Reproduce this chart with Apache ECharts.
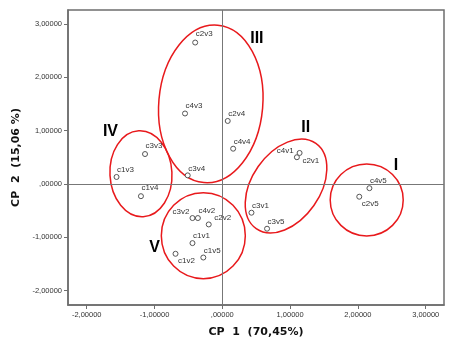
<!DOCTYPE html>
<html>
<head>
<meta charset="utf-8">
<script src="https://cdn.jsdelivr.net/npm/echarts@6/dist/echarts.min.js"></script>
<style>
  html, body { margin: 0; padding: 0; background: #fff; }
  #chart { width: 450px; height: 347px; }
</style>
</head>
<body>
<div id="chart"></div>
<script>
// PCA scores (CP1 x CP2)
var names = ['c1v1','c1v2','c1v3','c1v4','c1v5','c2v1','c2v2','c2v3','c2v4','c2v5',
             'c3v1','c3v2','c3v3','c3v4','c3v5','c4v1','c4v2','c4v3','c4v4','c4v5'];
var cp1 = [-0.44,-0.69,-1.56,-1.20,-0.28, 1.10,-0.20,-0.40, 0.08, 2.02,
            0.43,-0.44,-1.14,-0.51, 0.66, 1.14,-0.36,-0.55, 0.16, 2.17];
var cp2 = [-1.11,-1.31, 0.13,-0.23,-1.38, 0.50,-0.76, 2.65, 1.18,-0.24,
           -0.54,-0.64, 0.56, 0.16,-0.84, 0.58,-0.64, 1.32, 0.66,-0.08];
var tickValues = [-2, -1, 0, 1, 2, 3];

// groups (roman labels and ellipse centres, in data units)
var groupNames = ['I', 'II', 'III', 'IV', 'V'];
var groupLabelX = [2.56, 1.23, 0.51, -1.65, -1.0];
var groupLabelY = [0.35, 1.05, 2.72, 0.98, -1.20];
var ellipseX = [2.13, 0.94, -0.17, -1.20, -0.28];
var ellipseY = [-0.30, -0.04, 1.50, 0.19, -0.97];

// ellipse look: [rx px, ry px, rotation deg]
var ellipseShape = [[36.5, 36, 0], [52, 34, 55], [52, 79, -5], [31, 43, 3], [42, 43, 0]];

// label placement per point
var labelPlace = {
  c2v3: ['right', [-2.5, -9]], c4v3: ['right', [-2.5, -8]], c3v3: ['right', [-2.5, -8]],
  c1v4: ['right', [-2.5, -8]], c2v2: ['right', [2.5, -7]], c1v2: ['right', [-0.5, 7]],
  c2v1: ['right', [2.5, 4]], c2v5: ['right', [-0.5, 7]],
  c3v2: ['left', [0, -6]], c4v1: ['left', [-3, -2]]
};

function fmt(v) {
  var s = Math.abs(v).toFixed(5).replace('.', ',');
  if (Math.abs(v) < 1) s = s.replace(/^0/, '');
  return (v < 0 ? '-' : '') + s;
}

var points = names.map(function (n, i) {
  var p = labelPlace[n] || ['right', [-2.5, -7]];
  return {
    name: n,
    value: [cp1[i], cp2[i]],
    label: { position: p[0], offset: p[1] }
  };
});

var groupLabels = groupNames.map(function (n, i) {
  return { name: n, value: [groupLabelX[i], groupLabelY[i]] };
});

var axisColor = '#6e6e6e';
var chart = echarts.init(document.getElementById('chart'));
chart.setOption({
  animation: false,
  grid: { left: 68, right: 6, top: 10, bottom: 42, show: true, borderColor: axisColor, borderWidth: 1.5, backgroundColor: '#fff' },
  xAxis: {
    type: 'value',
    min: -2.276, max: 3.27,
    name: 'CP  1  (70,45%)',
    nameLocation: 'middle',
    nameGap: 22,
    nameTextStyle: { fontFamily: 'DejaVu Sans', fontWeight: 'bold', fontSize: 11, color: '#111' },
    axisLine: { show: true, onZero: false, lineStyle: { color: axisColor, width: 1.5 } },
    axisTick: { show: true, length: 4, customValues: tickValues, lineStyle: { color: axisColor } },
    axisLabel: { customValues: tickValues, margin: 6, fontFamily: 'Liberation Sans', fontSize: 7.5, color: '#333', formatter: fmt },
    splitLine: { show: false }
  },
  yAxis: {
    type: 'value',
    min: -2.27, max: 3.26,
    name: 'CP  2  (15,06 %)',
    nameLocation: 'middle',
    nameGap: 40,
    nameTextStyle: { fontFamily: 'DejaVu Sans', fontWeight: 'bold', fontSize: 11, color: '#111' },
    axisLine: { show: true, onZero: false, lineStyle: { color: axisColor, width: 1.5 } },
    axisTick: { show: true, length: 4, customValues: tickValues, lineStyle: { color: axisColor } },
    axisLabel: { customValues: tickValues, margin: 6, fontFamily: 'Liberation Sans', fontSize: 7.5, color: '#333', formatter: fmt },
    splitLine: { show: false }
  },
  series: [
    {
      type: 'scatter',
      data: points,
      symbol: 'circle',
      symbolSize: 5,
      itemStyle: { color: '#fff', borderColor: '#555', borderWidth: 1, opacity: 1 },
      label: {
        show: true,
        formatter: '{b}',
        distance: 0,
        fontFamily: 'Liberation Sans',
        fontSize: 8,
        color: '#333'
      },
      markLine: {
        silent: true,
        symbol: 'none',
        label: { show: false },
        lineStyle: { color: '#777', width: 1, type: 'solid' },
        data: [{ xAxis: 0 }, { yAxis: 0 }]
      },
      z: 3
    },
    {
      type: 'custom',
      data: ellipseX.map(function (x, i) { return [x, ellipseY[i]]; }),
      renderItem: function (params, api) {
        var c = api.coord([api.value(0), api.value(1)]);
        var s = ellipseShape[params.dataIndex];
        return {
          type: 'ellipse',
          x: c[0], y: c[1],
          rotation: s[2] * Math.PI / 180,
          shape: { cx: 0, cy: 0, rx: s[0], ry: s[1] },
          style: { fill: 'none', stroke: '#e8191c', lineWidth: 1.5 }
        };
      },
      silent: true,
      z: 2
    },
    {
      type: 'scatter',
      data: groupLabels,
      symbolSize: 0,
      silent: true,
      itemStyle: { opacity: 1 },
      label: {
        show: true,
        position: 'inside',
        formatter: '{b}',
        fontFamily: 'Liberation Sans',
        fontWeight: 'bold',
        fontSize: 16,
        color: '#000'
      },
      z: 4
    }
  ]
});
</script>
</body>
</html>
